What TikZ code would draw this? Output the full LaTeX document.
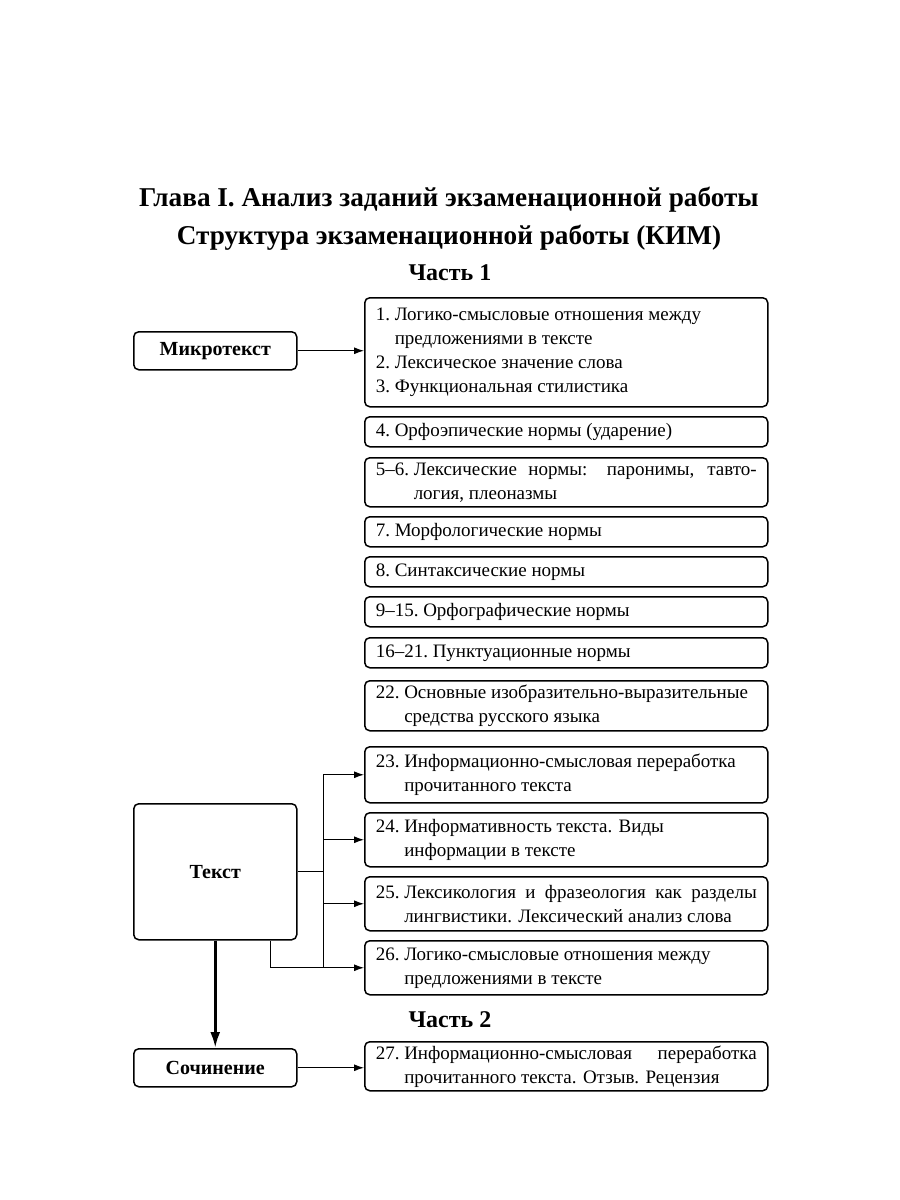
\documentclass[tikz,border=0pt]{standalone}
\usepackage{fontspec}
\setmainfont{Liberation Serif}
\usetikzlibrary{math,arrows.meta}

% numbered entry with hanging indent
\newcommand{\nitem}[2]{\setbox0\hbox{#1\ }\hangindent\wd0\hangafter1\noindent\box0#2\par}

\begin{document}
\begin{tikzpicture}[x=0.5pt, y=-0.5pt,
  item/.style={draw, line width=0.75pt, rounded corners=2.5pt, anchor=north west,
    minimum width=201.5pt, text width=190.5pt, inner xsep=5.5pt, inner ysep=1pt, align=justify,
    font=\fontsize{9.5}{12}\selectfont\hyphenpenalty10000\exhyphenpenalty10000},
  topic/.style={draw, line width=0.75pt, rounded corners=2.5pt, anchor=north west,
    minimum width=81.5pt, font=\bfseries\fontsize{10}{12}\selectfont},
  head/.style={font=\bfseries\fontsize{13.6}{16}\selectfont},
  part/.style={font=\bfseries\fontsize{12}{14}\selectfont},
  link/.style={line width=0.5pt, -{Latex[length=5pt,width=3.5pt]}}]
  \tikzmath{\bx = 364; \tx = 323;}
  \useasboundingbox (0,0) rectangle (900,1200);

  \node[head] (glava) at (449,200) {Глава I. Анализ заданий экзаменационной работы};
  \node[head] (kim) at (449,238) {Структура экзаменационной работы (КИМ)};
  \node[part] (p1) at (450,273) {Часть 1};
  \node[part] (p2) at (450,1020) {Часть 2};

  % left column
  \node[topic, minimum height=19pt] (mikro) at (133,331) {Микротекст};
  \node[topic, minimum height=68pt] (tekst) at (133,803) {Текст};
  \node[topic, minimum height=19pt] (soch) at (133,1048) {Сочинение};

  % part 1
  \node[item, minimum height=54.5pt] (b1) at (\bx,297) {\nitem{1.}{Логико-смысловые отношения между\\предложениями в тексте}\nitem{2.}{Лексическое значение слова}\nitem{3.}{Функциональная стилистика}};
  \node[item, minimum height=15pt] (b4) at (\bx,416) {\nitem{4.}{Орфоэпические нормы (ударение)}};
  \node[item, minimum height=24.5pt] (b5) at (\bx,457) {\nitem{5--6.}{Лексические нормы: паронимы, тавто-\linebreak логия, плеоназмы}};
  \node[item, minimum height=15pt] (b7) at (\bx,516) {\nitem{7.}{Морфологические нормы}};
  \node[item, minimum height=15pt] (b8) at (\bx,556) {\nitem{8.}{Синтаксические нормы}};
  \node[item, minimum height=15pt] (b9) at (\bx,596) {\nitem{9--15.}{Орфографические нормы}};
  \node[item, minimum height=15pt] (b16) at (\bx,637) {\nitem{16--21.}{Пунктуационные нормы}};
  \node[item, minimum height=25pt] (b22) at (\bx,680) {\nitem{22.}{Основные изобразительно-выразительные\\средства русского языка}};
  \node[item, minimum height=28pt] (b23) at (\bx,746) {\nitem{23.}{Информационно-смысловая переработка\\прочитанного текста}};
  \node[item, minimum height=27pt] (b24) at (\bx,812) {\nitem{24.}{Информативность текста. Виды\\информации в тексте}};
  \node[item, minimum height=27pt] (b25) at (\bx,876) {\nitem{25.}{Лексикология и фразеология как разделы\linebreak лингвистики. Лексический анализ слова}};
  \node[item, minimum height=27pt] (b26) at (\bx,940) {\nitem{26.}{Логико-смысловые отношения между\\предложениями в тексте}};

  % part 2
  \node[item, minimum height=24.5pt] (b27) at (\bx,1041) {\nitem{27.}{Информационно-смысловая переработка\linebreak прочитанного текста. Отзыв. Рецензия}};

  \coordinate (tr) at (\tx,0);
  \coordinate (lp) at (270,0);

  \draw[link] (mikro.east) -- (mikro.east -| b1.west);
  \draw[line width=0.5pt] (tekst.east) -- (tekst.east -| tr);
  \draw[line width=0.5pt] (b23.west -| tr) -- (b26.west -| tr);
  \draw[line width=0.5pt] (tekst.south -| lp) |- (b26.west -| tr);
  \foreach \b in {b23,b24,b25,b26}
    \draw[link] (\b.west -| tr) -- (\b.west);
  \draw[line width=1.4pt, -{Latex[length=8pt,width=5pt]}] (tekst.south) -- (soch.north);
  \draw[link] (soch.east) -- (soch.east -| b27.west);
\end{tikzpicture}
\end{document}
